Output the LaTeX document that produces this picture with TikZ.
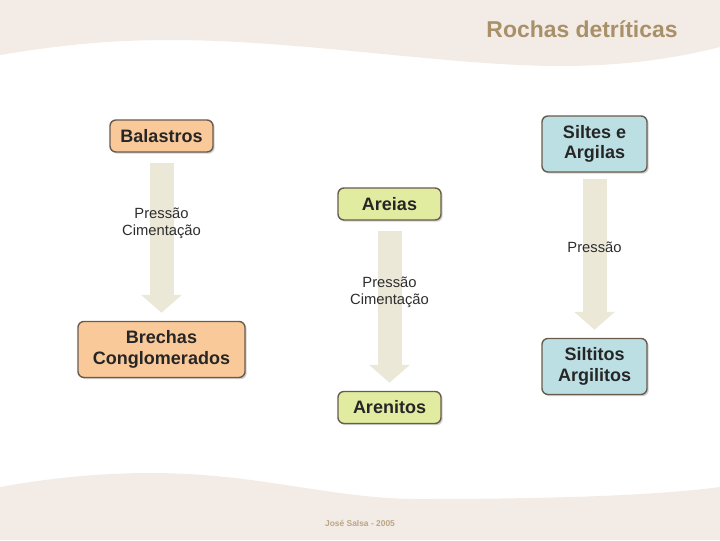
\documentclass[tikz,border=0pt]{standalone}
\usepackage{fontspec}
\setmainfont{Liberation Sans}
\usepackage{tikz}
\usetikzlibrary{arrows.meta, positioning, shadows}
\definecolor{bandbeige}{RGB}{243,235,229}
\definecolor{titlebrown}{RGB}{168,144,104}
\definecolor{boxedge}{RGB}{105,92,78}
\definecolor{peach}{RGB}{250,201,154}
\definecolor{lime}{RGB}{226,236,160}
\definecolor{paleblue}{RGB}{188,223,228}
\definecolor{flowbeige}{RGB}{235,232,216}
\definecolor{labelgray}{RGB}{45,45,45}
\tikzset{
    rockbox/.style={rectangle, draw=boxedge, line width=1pt, rounded corners=0.15cm,
                    text centered, align=center, font=\fontsize{12.8}{14.5}\selectfont\bfseries,
                    text=black!85, inner sep=2pt,
                    drop shadow={shadow xshift=1.2pt, shadow yshift=-1.2pt, fill=black!30, opacity=0.6}},
    flow/.style={line width=0.6cm, draw=flowbeige,
                 -{Triangle[width=1cm, length=0.45cm]}},
    flowlabel/.style={font=\fontsize{10.5}{12.5}\selectfont, text=labelgray, align=center}
}

\begin{document}
\begin{tikzpicture}[x=0.025cm, y=-0.025cm]
    \useasboundingbox (0,0) rectangle (720,540);
    % background bands
    \fill[bandbeige] (0,0) -- (720,0) -- (720,47)
        .. controls (680,57) and (630,66) .. (560,66)
        .. controls (450,66) and (300,40) .. (170,40)
        .. controls (110,40) and (60,45) .. (0,55) -- cycle;
    \fill[bandbeige] (0,487)
        .. controls (50,478) and (100,473) .. (150,473)
        .. controls (260,473) and (330,499) .. (420,499)
        .. controls (560,499) and (660,495) .. (720,487)
        -- (720,540) -- (0,540) -- cycle;
    \node[font=\fontsize{16.3}{19}\selectfont\bfseries, text=titlebrown] (title) at (582,29) {Rochas detríticas};
    \node[font=\fontsize{6}{7}\selectfont\bfseries, text=titlebrown!80] (footer) at (360,523) {José Salsa - 2005};

    \node[rockbox, fill=peach, minimum width=2.575cm, minimum height=0.8cm] (balastros) at (161.5,136) {Balastros};
    \node[rockbox, fill=peach, minimum width=4.175cm, minimum height=1.4cm, below=4.2cm of balastros] (brechas) {Brechas\\Conglomerados};
    \node[rockbox, fill=lime, minimum width=2.575cm, minimum height=0.8cm] (areias) at (389.5,204) {Areias};
    \node[rockbox, fill=lime, minimum width=2.575cm, minimum height=0.8cm, below=4.25cm of areias] (arenitos) {Arenitos};
    \node[rockbox, fill=paleblue, minimum width=2.625cm, minimum height=1.4cm] (siltes) at (594.5,144) {Siltes e\\Argilas};
    \node[rockbox, fill=paleblue, minimum width=2.625cm, minimum height=1.4cm, below=4.125cm of siltes] (siltitos) {Siltitos\\Argilitos};

    \draw[flow, shorten <=0.25cm, shorten >=0.2cm] (balastros) -- node[flowlabel, pos=0.42]{Pressão\\Cimentação} (brechas);
    \draw[flow, shorten <=0.25cm, shorten >=0.2cm] (areias) -- node[flowlabel, pos=0.42]{Pressão\\Cimentação} (arenitos);
    \draw[flow, shorten <=0.15cm, shorten >=0.2cm] (siltes) -- node[flowlabel, pos=0.45]{Pressão} (siltitos);
\end{tikzpicture}
\end{document}
